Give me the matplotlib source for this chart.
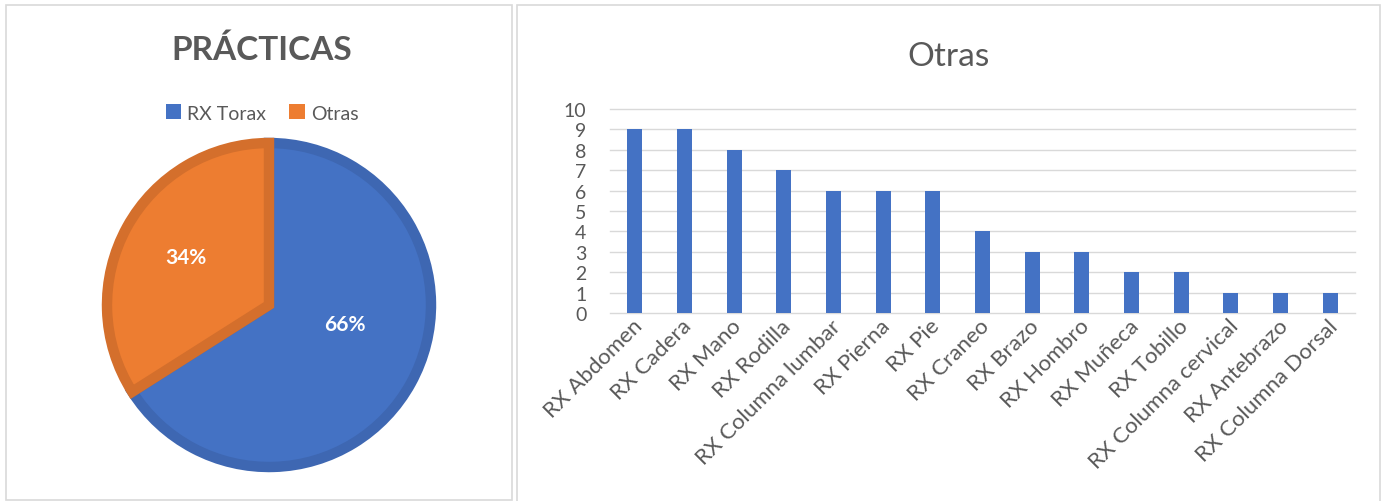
import matplotlib
matplotlib.use("Agg")
import matplotlib.pyplot as plt
from matplotlib.patches import Rectangle, Patch
from matplotlib.transforms import ScaledTranslation

# ---- data ----
pie_labels = ["RX Torax", "Otras"]
pie_values = [132, 68]
pie_colors = ["#4472C4", "#ED7D31"]
pie_edges = ["#3E67B2", "#D46F2C"]

bar_categories = ["RX Abdomen", "RX Cadera", "RX Mano", "RX Rodilla", "RX Columna lumbar",
                  "RX Pierna", "RX Pie", "RX Craneo", "RX Brazo", "RX Hombro",
                  "RX Muñeca", "RX Tobillo", "RX Columna cervical", "RX Antebrazo",
                  "RX Columna Dorsal"]
bar_values = [9, 9, 8, 7, 6, 6, 6, 4, 3, 3, 2, 2, 1, 1, 1]
y_ticks = list(range(0, 11))

W, H = 1386, 502
DPI = 100
plt.rcParams['font.family'] = ['Lato', 'DejaVu Sans']
TXT = "#595959"
GRID = "#D9D9D9"

fig = plt.figure(figsize=(W / DPI, H / DPI), dpi=DPI)
fig.patch.set_facecolor("white")


def px_axes(x0, y0, x1, y1, **kw):
    return fig.add_axes([x0 / W, 1 - y1 / H, (x1 - x0) / W, (y1 - y0) / H], **kw)


# panel borders
fig.patches.append(Rectangle((6 / W, 1 - 501 / H), (512 - 6) / W, (501 - 6) / H,
                             transform=fig.transFigure, fill=False, edgecolor=GRID, lw=1.2))
fig.patches.append(Rectangle((517 / W, 1 - 510 / H), (1380 - 517) / W, (510 - 6) / H,
                             transform=fig.transFigure, fill=False, edgecolor=GRID, lw=1.2))

# ---- pie ----
cx, cy, R = 269, 306, 167
ax1 = px_axes(cx - 180, cy - 180, cx + 180, cy + 180)
r_w = 162 / 180
wedges, _ = ax1.pie(pie_values, colors=pie_colors, startangle=90, counterclock=False,
                    radius=r_w, wedgeprops=dict(linewidth=7.5, edgecolor="none"))
for w, ec in zip(wedges, pie_edges):
    w.set_edgecolor(ec)
    w.set_joinstyle("miter")
ax1.set_xlim(-1, 1)
ax1.set_ylim(-1, 1)
ax1.set_aspect("equal")
ax1.axis("off")
total = sum(pie_values)
label_pos = [(345, 325), (186, 258)]
for v, (lx, ly) in zip(pie_values, label_pos):
    ax1.text((lx - cx) / 180, -(ly - cy) / 180, f"{round(100 * v / total)}%",
             color="white", fontsize=15, fontweight="bold", ha="center", va="center")

fig.text(262 / W, 1 - 50 / H, "PRÁCTICAS", fontsize=24, fontweight="bold",
         color=TXT, ha="center", va="center")
handles = [Patch(facecolor=c, edgecolor="none") for c in pie_colors]
fig.legend(handles, pie_labels, loc="center", bbox_to_anchor=(262 / W, 1 - 114 / H),
           ncol=2, frameon=False, fontsize=14, labelcolor=TXT, handlelength=0.8,
           handleheight=0.8, handletextpad=0.3, columnspacing=1.2)

# ---- bar chart ----
ax2 = px_axes(610, 110, 1355, 314)
x = range(len(bar_categories))
ax2.bar(x, bar_values, width=0.3, color="#4472C4", zorder=3)
ax2.set_xlim(-0.5, len(bar_categories) - 0.5)
ax2.set_ylim(0, 10)
ax2.set_yticks(y_ticks)
ax2.set_yticklabels([str(t) for t in y_ticks])
for t in y_ticks:
    ax2.axhline(t, color=GRID, lw=1, zorder=1, clip_on=False)
for s in ax2.spines.values():
    s.set_visible(False)
ax2.tick_params(axis="y", length=0, pad=17, labelsize=14, labelcolor=TXT)
ax2.tick_params(axis="x", length=0, pad=4, labelsize=16, labelcolor=TXT)
ax2.set_xticks(list(x))
ax2.set_xticklabels(bar_categories, rotation=45, ha="right", va="center",
                    rotation_mode="anchor")
off = ScaledTranslation(4 / DPI, -4 / DPI, fig.dpi_scale_trans)
for lab in ax2.get_xticklabels():
    lab.set_transform(lab.get_transform() + off)

fig.text(948 / W, 1 - 57 / H, "Otras", fontsize=24, color=TXT, ha="center", va="center")

fig.savefig("out.png", dpi=DPI, facecolor="white")
